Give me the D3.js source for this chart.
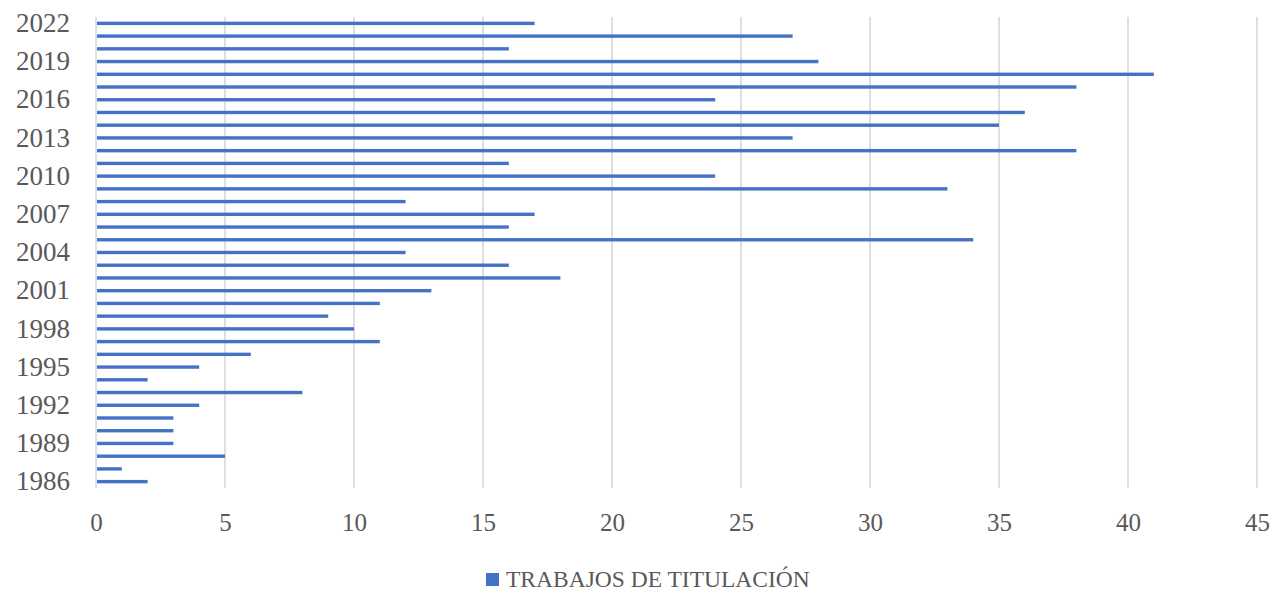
<!DOCTYPE html>
<html>
<head>
<meta charset="utf-8">
<script src="https://cdn.jsdelivr.net/npm/d3@7"></script>
<style>
    body { margin: 0; background: #fff; }
</style>
</head>
<body>
<div id="chart"></div>
<script>
var years = [2022, 2021, 2020, 2019, 2018, 2017, 2016, 2015, 2014, 2013, 2012, 2011, 2010,
             2009, 2008, 2007, 2006, 2005, 2004, 2003, 2002, 2001, 2000, 1999, 1998, 1997,
             1996, 1995, 1994, 1993, 1992, 1991, 1990, 1989, 1988, 1987, 1986]
var trabajos = [17, 27, 16, 28, 41, 38, 24, 36, 35, 27, 38, 16, 24,
                33, 12, 17, 16, 34, 12, 16, 18, 13, 11, 9, 10, 11,
                6, 4, 2, 8, 4, 3, 3, 3, 5, 1, 2]
var yearLabels = [2022, 2019, 2016, 2013, 2010, 2007, 2004, 2001, 1998, 1995, 1992, 1989, 1986]
var xTicks = [0, 5, 10, 15, 20, 25, 30, 35, 40, 45]
var seriesName = "TRABAJOS DE TITULACIÓN"

var W = 1273, H = 592
var margin = { left: 96, right: 16, top: 17, bottom: 104 }
var width = W - margin.left - margin.right,
    height = H - margin.top - margin.bottom
var barColor = "#4472c4",
    gridColor = "#d4d4d4",
    textColor = "#595959",
    fontFam = "'Liberation Serif', 'DejaVu Serif', serif"

var data = years.map(function(y, i){ return { year: String(y), value: trabajos[i] } })

var svg = d3.select("#chart")
    .append("svg")
        .attr("width", W)
        .attr("height", H)
    .append("g")
        .attr("transform", "translate(" + margin.left + "," + margin.top + ")")

var x = d3.scaleLinear()
    .domain([0, 45])
    .range([0, width])

var y = d3.scaleBand()
    .domain(data.map(function(d){ return d.year }))
    .range([0, height])

// vertical gridlines
svg.append("g")
    .selectAll("line")
    .data(xTicks)
    .enter()
        .append("line")
        .attr("x1", function(d){ return x(d) })
        .attr("x2", function(d){ return x(d) })
        .attr("y1", 0)
        .attr("y2", height)
        .attr("stroke", gridColor)
        .attr("stroke-width", 1.5)

// bars (thin)
var barH = 3.4
svg.append("g")
    .selectAll("rect")
    .data(data)
    .enter()
        .append("rect")
        .attr("x", x(0) + 1)
        .attr("y", function(d){ return y(d.year) + y.bandwidth() / 2 - barH / 2 })
        .attr("width", function(d){ return x(d.value) - x(0) - 1 })
        .attr("height", barH)
        .attr("fill", barColor)

var x_axis = d3.axisBottom(x).tickValues(xTicks).tickSize(0).tickPadding(25)
var y_axis = d3.axisLeft(y)
    .tickValues(yearLabels.map(String))
    .tickSize(0).tickPadding(26)

var gx = svg.append("g")
    .attr("transform", "translate(0," + height + ")")
    .call(x_axis)
gx.select(".domain").remove()
gx.selectAll("text")
    .attr("font-family", fontFam)
    .attr("font-size", 25)
    .attr("fill", textColor)

var gy = svg.append("g").call(y_axis)
gy.select(".domain").remove()
gy.selectAll("text")
    .attr("font-family", fontFam)
    .attr("font-size", 27)
    .attr("fill", textColor)

// legend
var legend = svg.append("g")
    .attr("transform", "translate(" + (486 - margin.left) + "," + (579 - margin.top) + ")")
legend.append("rect")
    .attr("x", 0)
    .attr("y", -6)
    .attr("width", 13)
    .attr("height", 13)
    .attr("fill", barColor)
legend.append("text")
    .attr("x", 20)
    .attr("y", 0)
    .attr("dy", "0.35em")
    .attr("font-family", fontFam)
    .attr("font-size", 23.5)
    .attr("fill", textColor)
    .text(seriesName)
</script>
</body>
</html>
